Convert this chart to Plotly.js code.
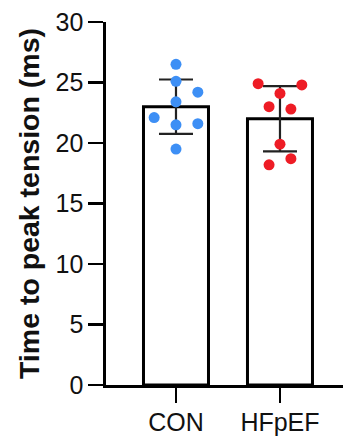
<!DOCTYPE html>
<html>
<head>
<meta charset="utf-8">
<script src="https://cdn.plot.ly/plotly-3.0.1.min.js"></script>
<style>html,body{margin:0;padding:0;background:#fff;}#chart{width:343px;height:437px;}</style>
</head>
<body>
<div id="chart"></div>
<script>
var categories = ["CON", "HFpEF"];
var means = [23.0, 22.0];
var sds = [2.25, 2.7];
var conValues = [26.5, 25.1, 24.2, 23.4, 22.1, 21.5, 21.6, 19.5];
var hfpefValues = [24.9, 24.8, 24.1, 23.0, 22.8, 19.9, 18.7, 18.2];
var conJitter = [0, 0, 0.21, 0, -0.21, 0, 0.21, 0];
var hfpefJitter = [-0.21, 0.21, 0, -0.105, 0.105, 0, 0.105, -0.105];
var yTicks = [0, 5, 10, 15, 20, 25, 30];

var catPos = categories.map(function(c, i){ return i; });
var font = "Liberation Sans, Arial, sans-serif";

var traces = [
  {
    type: "bar", x: catPos, y: means, width: 0.625,
    marker: {color: "#ffffff", line: {color: "#000000", width: 3}},
    error_y: {type: "data", array: sds, visible: true, color: "#222222", thickness: 2.2, width: 17},
    hoverinfo: "skip"
  },
  {
    type: "scatter", mode: "markers",
    x: conJitter.map(function(d){ return catPos[0] + d; }), y: conValues,
    marker: {color: "#3d8ff5", size: 11}
  },
  {
    type: "scatter", mode: "markers",
    x: hfpefJitter.map(function(d){ return catPos[1] + d; }), y: hfpefValues,
    marker: {color: "#ee1c25", size: 11}
  }
];

var layout = {
  width: 343, height: 437,
  margin: {l: 106, r: 0, t: 22, b: 52, pad: 0},
  paper_bgcolor: "#ffffff", plot_bgcolor: "#ffffff",
  showlegend: false,
  font: {family: font, color: "#111111"},
  xaxis: {
    range: [-0.673, 1.606], tickvals: catPos, ticktext: categories,
    showline: true, linecolor: "#000000", linewidth: 2.6,
    ticks: "outside", ticklen: 15, tickwidth: 2.6, tickcolor: "#000000",
    showgrid: false, zeroline: false, ticklabelstandoff: -2,
    tickfont: {size: 25, family: font, color: "#111111"}
  },
  yaxis: {
    range: [0, 30], tickvals: yTicks,
    showline: true, linecolor: "#000000", linewidth: 2.6,
    ticks: "outside", ticklen: 15, tickwidth: 2.6, tickcolor: "#000000",
    showgrid: false, zeroline: false,
    tickfont: {size: 25, family: font, color: "#111111"},
    title: {text: "<b>Time to peak tension (ms)</b>", font: {size: 28.5, family: font, color: "#111111"}, standoff: 8}
  }
};

Plotly.newPlot("chart", traces, layout, {displayModeBar: false, staticPlot: true});
</script>
</body>
</html>
